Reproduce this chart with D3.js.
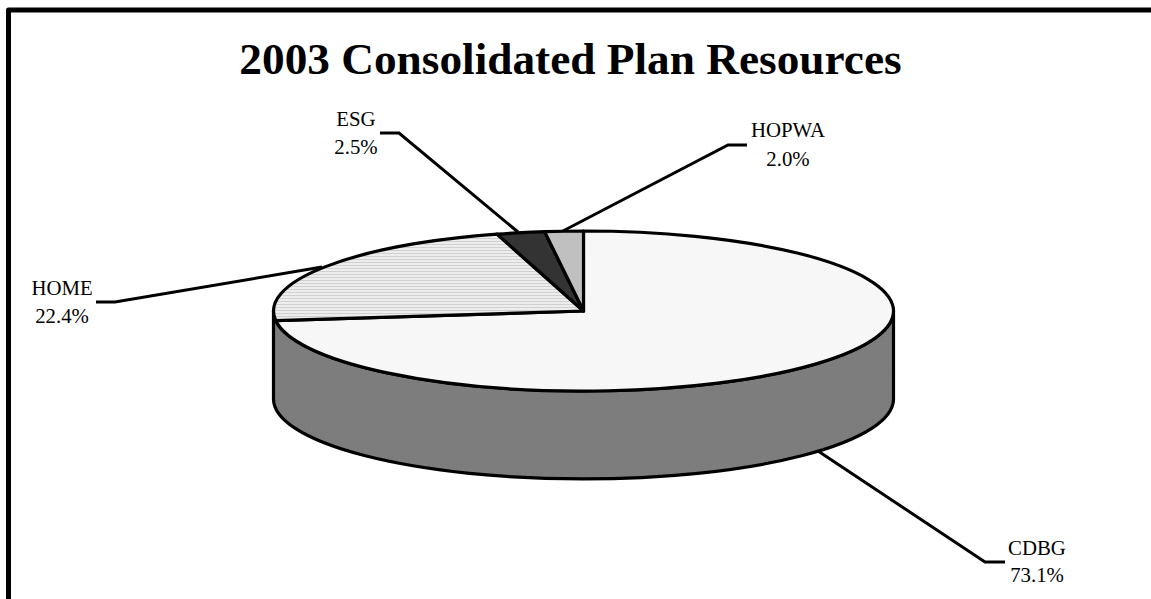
<!DOCTYPE html>
<html><head><meta charset="utf-8">
<script src="https://cdn.jsdelivr.net/npm/d3@7/dist/d3.min.js"></script>
<style>html,body{margin:0;padding:0;background:#fff}svg{display:block}text{font-family:"Liberation Serif","Times New Roman",serif;fill:#000}</style>
</head><body><svg id="c" width="1151" height="599"></svg>
<script>
// Data
const categories = ["CDBG", "HOME", "ESG", "HOPWA"];
const shares = [73.1, 22.4, 2.5, 2.0];
const title = "2003 Consolidated Plan Resources";

// Layout (separate from data)
const W = 1151, H = 599;
const cx = 583.5, cy = 311, rx = 310, ry = 80, depth = 88;
const labelLayout = {
  CDBG:  {x: 1037, y: 562, d1: -7, d2: 20, pts: [[1005,562],[985,562],[818,451]]},
  HOME:  {x: 62,   y: 302, d1: -7, d2: 21, pts: [[96,302],[115,302],[322,267]]},
  ESG:   {x: 356,  y: 133, d1: -7, d2: 21, pts: [[380,133],[399,133],[518,232]]},
  HOPWA: {x: 788,  y: 145, d1: -8, d2: 21, pts: [[747,145],[728,145],[561,232]]}
};

const svg = d3.select("#c");
const defs = svg.append("defs");
const unsquash = `scale(1,${rx/ry})`;
const dots = defs.append("pattern").attr("id","pDots").attr("width",4).attr("height",4)
  .attr("patternUnits","userSpaceOnUse").attr("patternTransform",unsquash);
dots.append("rect").attr("width",4).attr("height",4).attr("fill","#f8f8f8");
dots.append("rect").attr("width",1).attr("height",1).attr("fill","#efefef");
dots.append("rect").attr("x",2).attr("y",2).attr("width",1).attr("height",1).attr("fill","#efefef");
const stripes = defs.append("pattern").attr("id","pLines").attr("width",4).attr("height",3)
  .attr("patternUnits","userSpaceOnUse").attr("patternTransform",unsquash);
stripes.append("rect").attr("width",4).attr("height",3).attr("fill","#ededed");
stripes.append("rect").attr("y",2).attr("width",4).attr("height",1).attr("fill","#d0d0d0");
const sideP = defs.append("pattern").attr("id","pSide").attr("width",2).attr("height",2).attr("patternUnits","userSpaceOnUse");
sideP.append("rect").attr("width",2).attr("height",2).attr("fill","#7e7e7e");
sideP.append("rect").attr("width",1).attr("height",1).attr("fill","#797979");

const fills = d3.scaleOrdinal().domain(categories).range(["url(#pDots)","url(#pLines)","#333333","#c0c0c0"]);

// Frame: only left and top edges appear within the crop
svg.append("path").attr("d", d3.line()([[8.5,H],[8.5,10],[W,10]]))
  .attr("fill","none").attr("stroke","#000").attr("stroke-width",5).attr("stroke-linejoin","round");

svg.append("text").attr("x",570.5).attr("y",74).attr("text-anchor","middle")
  .attr("font-size",45.3).attr("font-weight","bold").text(title);

// Side wall: front half of the ellipse extruded
const sideD = `M${cx-rx},${cy} L${cx-rx},${cy+depth} A${rx},${ry} 0 0 0 ${cx+rx},${cy+depth} L${cx+rx},${cy} A${rx},${ry} 0 0 1 ${cx-rx},${cy} Z`;
svg.append("path").attr("d",sideD).attr("fill","url(#pSide)").attr("stroke","#000").attr("stroke-width",3.2).attr("stroke-linejoin","round");

// Top face: pie laid out with d3, squashed vertically
const pie = d3.pie().sort(null).value(d=>d.v).startAngle(0).endAngle(2*Math.PI);
const arc = d3.arc().innerRadius(0).outerRadius(rx);
const table = categories.map((c,i)=>({c, v:shares[i]}));

// Leaders go behind the pie
svg.append("g").selectAll("path").data(categories).join("path")
  .attr("d",c=>d3.line()(labelLayout[c].pts))
  .attr("fill","none").attr("stroke","#000").attr("stroke-width",3);

const face = svg.append("g").attr("transform",`translate(${cx},${cy}) scale(1,${ry/rx})`);
face.selectAll("path").data(pie(table)).join("path")
  .attr("d",arc).attr("fill",d=>fills(d.data.c))
  .attr("stroke","#000").attr("stroke-width",3.2).attr("stroke-linejoin","round")
  .attr("vector-effect","non-scaling-stroke");

// Labels
const fmt = d3.format(".1f");
const lab = svg.append("g").selectAll("text").data(table).join("text")
  .attr("text-anchor","middle").attr("font-size",20.8);
lab.append("tspan").attr("x",d=>labelLayout[d.c].x).attr("y",d=>labelLayout[d.c].y+labelLayout[d.c].d1).text(d=>d.c);
lab.append("tspan").attr("x",d=>labelLayout[d.c].x).attr("y",d=>labelLayout[d.c].y+labelLayout[d.c].d2).text(d=>fmt(d.v)+"%");
</script></body></html>
